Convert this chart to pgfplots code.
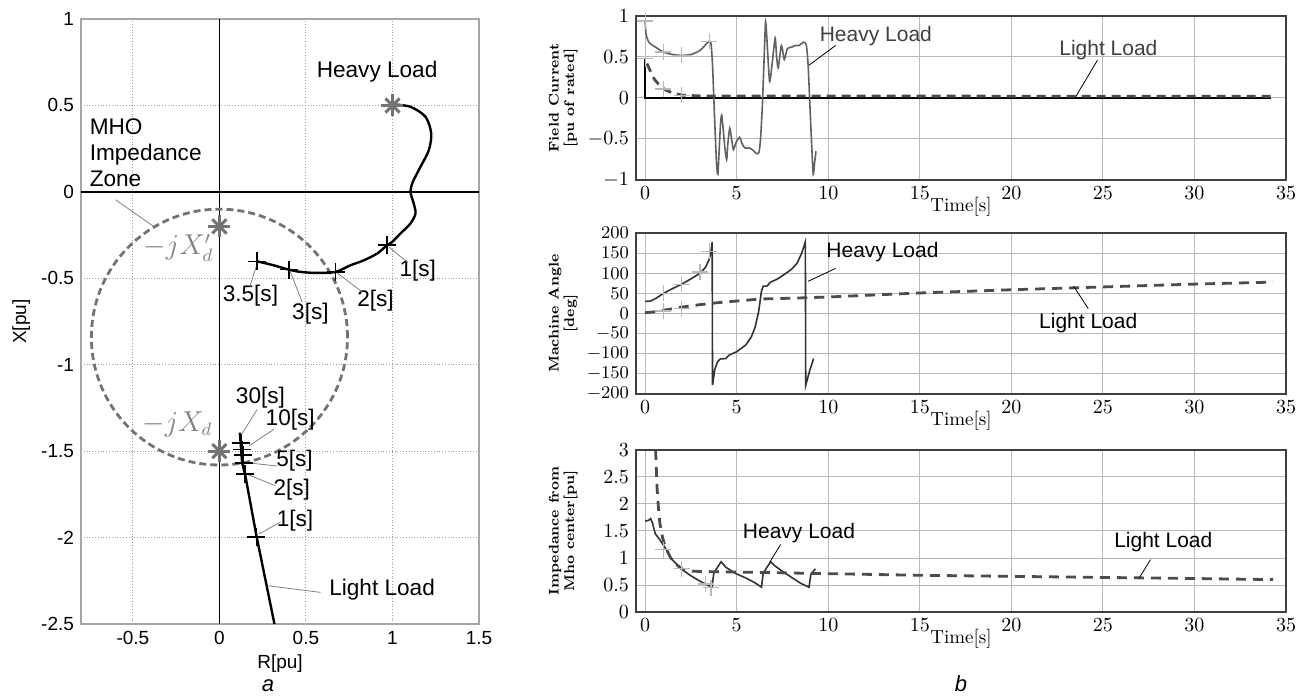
\documentclass[border=0pt]{standalone}
\usepackage{fontspec}
\usepackage{pgfplots}
\pgfplotsset{compat=1.18}
\newfontfamily\arial{Liberation Sans}
\definecolor{stargray}{gray}{0.45}
\definecolor{circgray}{gray}{0.45}
\definecolor{heavygray}{gray}{0.38}
\definecolor{markgray}{gray}{0.72}
\definecolor{lightdash}{gray}{0.3}
\tikzset{ann/.style={font=\arial\fontsize{10.5}{12}\selectfont},
         annl/.style={font=\arial\fontsize{11.3}{13}\selectfont}}
\pgfplotsset{
  rstyle/.style={
    scale only axis, width=325pt, xmin=-0.5, xmax=35,
    xtick={0,5,...,35}, grid=major, grid style={gray!55, line width=0.5pt},
    axis line style={gray!50!black, line width=0.6pt},
    major tick length=0pt,
    ticklabel style={font=\fontsize{10}{11}\selectfont},
    yticklabel style={inner ysep=0.5pt},
    xlabel={Time[s]}, xlabel style={font=\fontsize{9.5}{10}\selectfont, yshift=8pt},
    ylabel style={font=\bfseries\fontsize{7}{7.8}\selectfont, align=center, at={(axis description cs:-0.112,0.5)}, anchor=center},
    clip=false,
  },
}
\begin{document}
\begin{tikzpicture}
\useasboundingbox (0,0) rectangle (654pt,348.5pt);
% ---------------- left panel ----------------
\begin{axis}[
  name=axa,
  at={(40.5pt,36.5pt)}, anchor=south west,
  scale only axis, width=199pt, height=302.5pt,
  xmin=-0.8, xmax=1.5, ymin=-2.5, ymax=1,
  xtick={-0.5,0,0.5,1,1.5}, xticklabels={-0.5,0,0.5,1,1.5},
  ytick={-2.5,-2,-1.5,-1,-0.5,0,0.5,1}, yticklabels={-2.5,-2,-1.5,-1,-0.5,0,0.5,1},
  ticklabel style={font=\arial\fontsize{9.5}{10}\selectfont},
  major tick length=0pt,
  grid=major, grid style={densely dotted, gray!75, line width=0.5pt},
  axis line style={gray!70, line width=0.6pt},
  xlabel={R[pu]}, ylabel={X[pu]},
  label style={font=\arial\fontsize{9.5}{10}\selectfont},
  ylabel style={at={(axis description cs:-0.15,0.5)}, anchor=center},
  xlabel style={yshift=2pt},
  clip=false,
]
\addplot[black, line width=0.7pt] coordinates {(0,-2.5) (0,1)};
\addplot[black, line width=0.7pt] coordinates {(-0.8,0) (1.5,0)};
\draw[circgray, line width=1.4pt, dash pattern=on 3.5pt off 2pt] (axis cs:0,-0.84) ellipse [x radius=0.74, y radius=0.74];
% heavy load trajectory
\addplot[black, line width=1.2pt, smooth, tension=0.5] coordinates {
(1.002,0.506) (1.104,0.492) (1.191,0.434) (1.224,0.338) (1.210,0.241) (1.162,0.145)
(1.118,0.058) (1.104,0) (1.123,-0.068) (1.133,-0.125) (1.104,-0.183) (1.046,-0.241)
(0.998,-0.290) (0.969,-0.309) (0.911,-0.357) (0.834,-0.396) (0.757,-0.425) (0.671,-0.463)
(0.565,-0.469) (0.468,-0.463) (0.401,-0.450) (0.314,-0.425) (0.218,-0.402)};
\addplot[only marks, mark=+, mark size=4.5pt, black, line width=0.8pt] coordinates {
(0.969,-0.309) (0.671,-0.463) (0.401,-0.450) (0.218,-0.402)};
% light load trajectory
\addplot[black, line width=1.2pt] coordinates {
(0.118,-1.393) (0.131,-1.566) (0.150,-1.643) (0.214,-1.99) (0.318,-2.5)};
\addplot[only marks, mark=+, mark size=4.5pt, black, line width=0.8pt] coordinates {
(0.126,-1.453) (0.131,-1.491) (0.135,-1.524) (0.140,-1.568) (0.149,-1.632) (0.214,-1.998)};
% stars
\addplot[only marks, mark=+, mark size=5.5pt, stargray, line width=1.5pt] coordinates {(1,0.5) (0,-0.2) (0,-1.5)};
\addplot[only marks, mark=x, mark size=5pt, stargray, line width=1.5pt] coordinates {(1,0.5) (0,-0.2) (0,-1.5)};
% annotations
\node[annl] at (axis cs:0.911,0.695) {Heavy Load};
\node[annl, align=left, anchor=west] at (axis cs:-0.79,0.225) {MHO\\Impedance\\Zone};
\draw[gray] (axis cs:-0.60,-0.046) -- (axis cs:-0.38,-0.2);
\node[gray, font=\fontsize{13.5}{14}\selectfont] at (axis cs:-0.237,-0.325) {$-jX'_d$};
\node[gray, font=\fontsize{13.5}{14}\selectfont] at (axis cs:-0.243,-1.345) {$-jX_d$};
\node[annl] at (axis cs:1.146,-0.457) {1[s]};
\node[annl] at (axis cs:0.902,-0.627) {2[s]};
\node[annl] at (axis cs:0.526,-0.705) {3[s]};
\node[annl] at (axis cs:0.179,-0.598) {3.5[s]};
\draw[gray] (axis cs:0.98,-0.32) -- (axis cs:1.09,-0.41);
\draw[gray] (axis cs:0.680,-0.469) -- (axis cs:0.825,-0.579);
\draw[gray] (axis cs:0.410,-0.463) -- (axis cs:0.478,-0.637);
\draw[gray] (axis cs:0.218,-0.415) -- (axis cs:0.175,-0.55);
\node[annl] at (axis cs:0.237,-1.191) {30[s]};
\node[annl] at (axis cs:0.409,-1.316) {10[s]};
\node[annl] at (axis cs:0.434,-1.557) {5[s]};
\node[annl] at (axis cs:0.418,-1.72) {2[s]};
\node[annl] at (axis cs:0.437,-1.904) {1[s]};
\node[annl] at (axis cs:0.94,-2.302) {Light Load};
\draw[gray] (axis cs:0.13,-1.40) -- (axis cs:0.218,-1.259);
\draw[gray] (axis cs:0.17,-1.47) -- (axis cs:0.314,-1.374);
\draw[gray] (axis cs:0.15,-1.566) -- (axis cs:0.333,-1.586);
\draw[gray] (axis cs:0.15,-1.63) -- (axis cs:0.324,-1.70);
\draw[gray] (axis cs:0.227,-1.98) -- (axis cs:0.353,-1.91);
\draw[gray] (axis cs:0.285,-2.279) -- (axis cs:0.584,-2.317);
\end{axis}
\node[font=\arial\itshape\fontsize{11}{12}\selectfont] at ([yshift=-31pt,xshift=-6pt]axa.south) {a};
% ---------------- right top ----------------
\begin{axis}[rstyle,
  name=axb, at={(318pt,258.5pt)}, anchor=south west, height=82pt,
  ymin=-1, ymax=1, ytick={-1,-0.5,0,0.5,1},
  ylabel={Field Current\\{}[pu of rated]},
]
\addplot[black, line width=1pt] coordinates {(0,0.48) (0,0) (34.2,0)};
\addplot[heavygray, line width=0.8pt, smooth, tension=0.4] coordinates {
(0,0.94) (0.05,0.78) (0.2,0.68) (0.5,0.63) (1,0.56) (1.5,0.53) (2,0.52) (2.5,0.53) (3,0.58)
(3.3,0.65) (3.5,0.69) (3.6,0.66) (3.68,0.4) (3.75,0) (3.82,-0.4) (3.9,-0.8) (3.97,-0.93)
(4.05,-0.6) (4.12,-0.3) (4.18,-0.21) (4.25,-0.35) (4.35,-0.6) (4.45,-0.75) (4.52,-0.55)
(4.62,-0.37) (4.72,-0.5) (4.82,-0.63) (4.95,-0.55) (5.15,-0.48) (5.3,-0.56) (5.45,-0.61)
(5.7,-0.61) (5.9,-0.64) (6.1,-0.68) (6.22,-0.66) (6.3,-0.5) (6.4,-0.1) (6.5,0.5) (6.58,0.93)
(6.68,0.6) (6.8,0.2) (6.95,0.45) (7.1,0.73) (7.18,0.5) (7.27,0.37) (7.44,0.64) (7.6,0.47)
(7.76,0.6) (8.0,0.62) (8.2,0.64) (8.4,0.64) (8.64,0.68) (8.8,0.65) (8.9,0.4) (9.0,-0.1)
(9.1,-0.6) (9.18,-0.93) (9.25,-0.8) (9.33,-0.65)};
\addplot[lightdash, line width=1.4pt, dash pattern=on 4.5pt off 3pt] coordinates {
(0.1,0.42) (0.3,0.32) (0.5,0.23) (0.8,0.15) (1.1,0.1) (1.5,0.06) (2,0.035) (3,0.025) (34.3,0.02)};
\addplot[only marks, mark=+, mark size=4pt, markgray, line width=0.6pt] coordinates {
(0,0.94) (1,0.56) (2,0.52) (3.5,0.69) (0,0.48) (1,0.11) (2,0.035)};
\node[ann, text=black!75] at (axis cs:12.6,0.76) {Heavy Load};
\draw[black] (axis cs:8.95,0.40) -- (axis cs:10.4,0.64);
\node[ann, text=black!75] at (axis cs:25.3,0.58) {Light Load};
\draw[black] (axis cs:23.5,0.01) -- (axis cs:24.7,0.46);
\end{axis}
% ---------------- right middle ----------------
\begin{axis}[rstyle,
  name=axc, at={(318pt,151.5pt)}, anchor=south west, height=80.5pt,
  ymin=-200, ymax=200, ytick={-200,-150,...,200},
  yticklabel style={inner ysep=0pt, font=\fontsize{9.5}{10}\selectfont},
  ylabel={Machine Angle\\{}[deg]},
]
\addplot[black!80, line width=0.8pt] coordinates {
(0,30) (0.3,31) (0.6,38) (1,50) (1.5,62) (2,73) (2.5,86) (3,100) (3.3,115) (3.5,135)
(3.6,155) (3.66,178) (3.68,-178) (3.8,-140) (3.95,-120) (4.1,-113) (4.4,-112) (4.6,-103)
(5,-95) (5.5,-78) (5.8,-58) (6.0,-35) (6.2,5) (6.35,55) (6.45,68) (6.65,68) (6.85,78)
(7.2,85) (7.6,97) (8.0,110) (8.3,125) (8.55,150) (8.75,178) (8.77,-178) (9.0,-140) (9.2,-112)};
\addplot[lightdash, line width=1.4pt, dash pattern=on 5pt off 3.5pt] coordinates {
(0,2) (0.5,4) (1,8) (2,16) (3,22) (4,27) (5,31) (6.3,36) (8,38) (10,41) (15,51) (20,59)
(25,66) (30,73) (34.3,78)};
\addplot[only marks, mark=+, mark size=4pt, markgray, line width=0.6pt] coordinates {
(1,50) (2,73) (3,103) (3.5,155) (1,6) (2,12)};
\node[ann] at (axis cs:12.96,153) {Heavy Load};
\draw[black] (axis cs:8.9,80) -- (axis cs:10.4,112);
\node[ann] at (axis cs:24.2,-25) {Light Load};
\draw[black] (axis cs:23.4,68) -- (axis cs:24.2,12);
\end{axis}
% ---------------- right bottom ----------------
\begin{axis}[rstyle,
  name=axd, at={(318pt,42.5pt)}, anchor=south west, height=81pt,
  ymin=0, ymax=3, ytick={0,0.5,...,3},
  ylabel={Impedance from\\Mho center[pu]},
]
\addplot[black!80, line width=0.8pt] coordinates {
(0,1.68) (0.2,1.7) (0.3,1.73) (0.4,1.65) (0.55,1.45) (0.8,1.34) (1.07,1.2) (1.47,0.97)
(2,0.79) (2.5,0.67) (3,0.57) (3.4,0.5) (3.65,0.46) (3.75,0.72) (3.9,0.8) (4.15,0.93)
(4.4,0.83) (4.9,0.72) (5.5,0.63) (6,0.54) (6.35,0.46) (6.45,0.72) (6.6,0.8) (6.85,0.93)
(7.1,0.85) (7.6,0.73) (8.0,0.64) (8.5,0.53) (8.95,0.46) (9.05,0.7) (9.3,0.8)};
\addplot[lightdash, line width=1.4pt, dash pattern=on 5pt off 3.5pt] coordinates {
(0.57,3.0) (0.6,2.75) (0.65,2.3) (0.72,1.95) (0.8,1.65) (0.95,1.38) (1.1,1.2) (1.4,1.0)
(1.7,0.88) (2.0,0.8) (2.4,0.76) (3,0.75) (5,0.74) (10,0.71) (15,0.68) (20,0.66) (25,0.64)
(30,0.62) (34.3,0.6)};
\addplot[only marks, mark=+, mark size=4pt, markgray, line width=0.6pt] coordinates {
(1,1.15) (2,0.8) (3.3,0.52) (3.6,0.45)};
\node[ann] at (axis cs:8.4,1.47) {Heavy Load};
\draw[black] (axis cs:6.8,0.92) -- (axis cs:7.4,1.25);
\node[ann] at (axis cs:28.3,1.3) {Light Load};
\draw[black] (axis cs:27.0,0.64) -- (axis cs:27.6,0.97);
\end{axis}
\node[font=\arial\itshape\fontsize{11}{12}\selectfont] at ([yshift=-36pt]axd.south) {b};
\end{tikzpicture}
\end{document}
